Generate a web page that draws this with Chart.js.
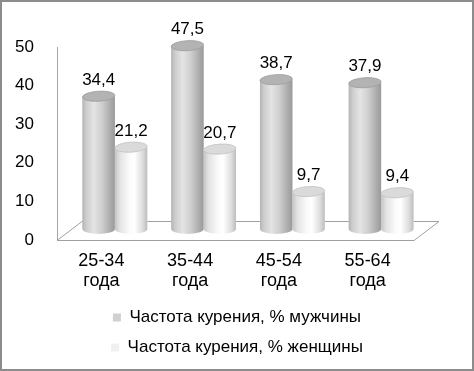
<!DOCTYPE html>
<html>
<head>
<meta charset="utf-8">
<script src="https://cdn.jsdelivr.net/npm/chart.js@4/dist/chart.umd.min.js"></script>
<style>
  html, body { margin: 0; padding: 0; background: #fff; }
  #wrap { position: relative; width: 474px; height: 371px; }
  canvas { display: block; }
</style>
</head>
<body>
<div id="wrap"><canvas id="c" width="474" height="371"></canvas></div>
<script>
// ---- data ----
const categories = [["25-34", "года"], ["35-44", "года"], ["45-54", "года"], ["55-64", "года"]];
const seriesNames = ["Частота курения, % мужчины", "Частота курения, % женщины"];
const menValues = [34.4, 47.5, 38.7, 37.9];
const womenValues = [21.2, 20.7, 9.7, 9.4];
const yTicks = [0, 10, 20, 30, 40, 50];

const FONT = "'Liberation Sans', Arial, sans-serif";
const DEPTH_X = 25, DEPTH_Y = -19;   // floor depth
const BAR_DX = 13.5, BAR_DY = -11;   // bars sit mid-depth

const cylStyles = [
  { stops: [[0, '#b4b4b4'], [0.12, '#cdcdcd'], [0.35, '#e4e4e4'], [0.6, '#cfcfcf'], [0.85, '#adadad'], [1, '#9a9a9a']], top: '#b3b3b3', topEdge: '#9c9c9c' },
  { stops: [[0, '#c4c4c4'], [0.15, '#e2e2e2'], [0.45, '#fbfbfb'], [0.6, '#ffffff'], [0.85, '#dedede'], [1, '#bdbdbd']], top: '#dadada', topEdge: '#c2c2c2' }
];

const fmt = v => v.toFixed(1).replace('.', ',');

const cylinderPlugin = {
  id: 'cyl',
  beforeDatasetsDraw(chart) {
    const ctx = chart.ctx;
    const ca = chart.chartArea;
    const y0 = chart.scales.y.getPixelForValue(0);
    // floor
    ctx.save();
    ctx.strokeStyle = '#a0a0a0';
    ctx.lineWidth = 1;
    ctx.beginPath();
    ctx.moveTo(ca.left, y0 + 0.5);
    ctx.lineTo(ca.right + 2, y0 + 0.5);
    ctx.lineTo(ca.right + 2 + DEPTH_X, y0 + DEPTH_Y + 0.5);
    ctx.lineTo(ca.left + DEPTH_X, y0 + DEPTH_Y + 0.5);
    ctx.closePath();
    ctx.stroke();
    ctx.restore();
    ctx.save();
    ctx.translate(BAR_DX, BAR_DY);
  },
  afterDatasetsDraw(chart) {
    const ctx = chart.ctx;
    chart.data.datasets.forEach((ds, di) => {
      const meta = chart.getDatasetMeta(di);
      const st = cylStyles[di];
      meta.data.forEach((el, i) => {
        const p = el.getProps(['x', 'y', 'base', 'width'], true);
        const l = p.x - p.width / 2, r = p.x + p.width / 2;
        const rx = p.width / 2, ry = 5;
        const g = ctx.createLinearGradient(l, 0, r, 0);
        st.stops.forEach(s => g.addColorStop(s[0], s[1]));
        ctx.beginPath();
        ctx.moveTo(l, p.y);
        ctx.lineTo(l, p.base);
        ctx.ellipse(p.x, p.base, rx, ry, 0, Math.PI, 0, true);
        ctx.lineTo(r, p.y);
        ctx.closePath();
        ctx.fillStyle = g;
        ctx.fill();
        ctx.beginPath();
        ctx.ellipse(p.x, p.y, rx, ry, -0.06, 0, Math.PI * 2);
        ctx.fillStyle = st.top;
        ctx.fill();
        ctx.strokeStyle = st.topEdge;
        ctx.lineWidth = 0.8;
        ctx.stroke();
        // value label
        ctx.fillStyle = '#000';
        ctx.font = '17px ' + FONT;
        ctx.textAlign = 'center';
        ctx.textBaseline = 'middle';
        ctx.fillText(fmt(ds.data[i]), p.x, p.y - 16);
      });
    });
    ctx.restore();
  },
  afterDraw(chart) {
    const ctx = chart.ctx;
    ctx.save();
    ctx.strokeStyle = '#8c8c8c';
    ctx.lineWidth = 2;
    ctx.strokeRect(1, 1, chart.width - 2, chart.height - 2);
    ctx.restore();
  }
};

new Chart(document.getElementById('c'), {
  type: 'bar',
  data: {
    labels: categories,
    datasets: [
      { label: seriesNames[0], data: menValues, backgroundColor: '#d0d0d0', borderWidth: 0, clip: false },
      { label: seriesNames[1], data: womenValues, backgroundColor: '#f0f0f0', borderWidth: 0, clip: false }
    ]
  },
  options: {
    responsive: false,
    animation: false,
    devicePixelRatio: 1,
    layout: { padding: { top: 47, right: 0, left: 0, bottom: 5 } },
    datasets: { bar: { barPercentage: 1, categoryPercentage: 0.73 } },
    plugins: {
      tooltip: { enabled: false },
      legend: {
        position: 'bottom',
        labels: {
          boxWidth: 8, boxHeight: 8, padding: 13,
          color: '#000',
          font: { family: FONT, size: 17 }
        }
      }
    },
    scales: {
      x: {
        grid: { display: false },
        border: { display: false },
        ticks: { color: '#000', padding: 3, font: { family: FONT, size: 18, lineHeight: 1.11 }, maxRotation: 0, autoSkip: false },
        afterFit: s => { s.height = 56; }
      },
      y: {
        min: 0, max: 50,
        grid: { display: false },
        border: { display: true, color: '#a6a6a6', width: 1 },
        afterBuildTicks: s => { s.ticks = yTicks.map(v => ({ value: v })); },
        ticks: { color: '#000', padding: 15, font: { family: FONT, size: 17 } },
        afterFit: s => { s.width = 57; }
      },
      yRightSpace: {
        type: 'linear',
        position: 'right',
        display: true,
        min: 0, max: 50,
        grid: { display: false },
        border: { display: false },
        ticks: { display: false },
        afterFit: s => { s.width = 62; }
      }
    }
  },
  plugins: [cylinderPlugin]
});
</script>
</body>
</html>
